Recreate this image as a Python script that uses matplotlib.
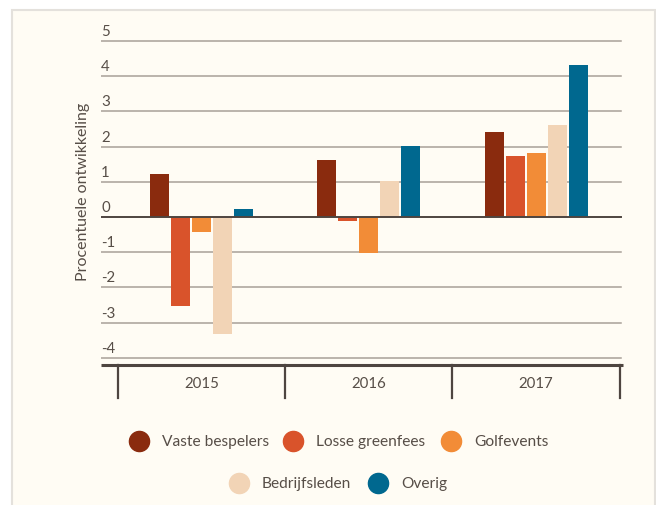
import numpy as np
import matplotlib
matplotlib.use("Agg")
import matplotlib.pyplot as plt
from matplotlib.patches import Rectangle
from matplotlib.lines import Line2D
from matplotlib.transforms import blended_transform_factory

# data
years = ["2015", "2016", "2017"]
series = ["Vaste bespelers", "Losse greenfees", "Golfevents", "Bedrijfsleden", "Overig"]
vaste = [1.22, 1.62, 2.41]
losse = [-2.52, -0.10, 1.73]
golf = [-0.42, -1.02, 1.82]
bedrijf = [-3.31, 1.02, 2.61]
overig = [0.23, 2.02, 4.32]
colors = ["#8a2b0e", "#d9532b", "#f28c37", "#f2d4b6", "#00688f"]
yticks = [-4, -3, -2, -1, 0, 1, 2, 3, 4, 5]
ylabel = "Procentuele ontwikkeling"

plt.rcParams['font.family'] = ['Lato', 'DejaVu Sans']
txt = "#574e47"
bg = "#fffcf4"

W, H = 656, 506
fig = plt.figure(figsize=(W / 100, H / 100), dpi=100, facecolor="white")
fig.add_artist(Rectangle((12 / W, -0.01), (655 - 12) / W, 1 - 11 / H + 0.01,
                         transform=fig.transFigure, facecolor=bg,
                         edgecolor="#e4e1dc", lw=1.5, zorder=0))

# axes box in pixels: x 101..623, y 30..366
px_left, px_right, px_top, px_bot = 101, 623, 30, 366
ax = fig.add_axes([px_left / W, 1 - px_bot / H, (px_right - px_left) / W, (px_bot - px_top) / H])
ax.set_facecolor("none")
unit = 35.2
zero_px = 218
ax.set_ylim(-(px_bot - zero_px) / unit, (zero_px - px_top) / unit)
cat_w = 167.3
c0 = 201.5
ax.set_xlim((px_left - c0) / cat_w, (px_right - c0) / cat_w)
for s in ax.spines.values():
    s.set_visible(False)
ax.set_xticks([])
ax.set_yticks([])

x = np.arange(len(years))
vals = [vaste, losse, golf, bedrijf, overig]
bw = 19 / cat_w
step = 21 / cat_w
for i, (name, v, c) in enumerate(zip(series, vals, colors)):
    ax.bar(x + (i - 2) * step, v, width=bw, color=c, zorder=3)

x_end = (621 - c0) / cat_w
x_start = (px_left - c0) / cat_w
for t in yticks:
    if t == 0:
        ax.plot([x_start, x_end], [0, 0], color="#4e4540", lw=1.4, zorder=4)
    else:
        ax.plot([x_start, x_end], [t, t], color="#a8a098", lw=1.1, zorder=1)
    ax.annotate(str(t), (x_start, t), xytext=(0, 4.3), textcoords="offset points",
                ha="left", va="baseline", fontsize=10.8, color=txt)

# category axis at bottom
ax.plot([x_start, (px_right - c0) / cat_w], [ax.get_ylim()[0]] * 2, color="#4e4540",
        lw=2.2, clip_on=False, solid_capstyle="butt", zorder=5)
trans = blended_transform_factory(ax.transData, fig.transFigure)
for b in [-0.5, 0.5, 1.5, 2.5]:
    ax.plot([b, b], [1 - 366 / H, 1 - 399 / H], transform=trans, color="#4e4540",
            lw=1.6, clip_on=False)
for i, y in enumerate(years):
    ax.text(x[i], 1 - 388 / H, y, transform=trans, ha="center", va="baseline",
            fontsize=10.8, color=txt)

fig.text(83 / W, 1 - 192 / H, ylabel, rotation=90, ha="center", va="center",
         fontsize=11.5, color=txt)

# legend
leg_pos = [(139, 442), (293, 442), (451, 442), (239, 484), (378, 484)]
for (lx, ly), name, c in zip(leg_pos, series, colors):
    fig.add_artist(Line2D([lx / W], [1 - ly / H], marker="o", ms=14.5, color=c,
                          mec=c, transform=fig.transFigure, lw=0))
    fig.text((lx + 23) / W, 1 - ly / H, name, ha="left", va="center",
             fontsize=11.2, color=txt)

fig.savefig("out.png", dpi=100, facecolor="white")
